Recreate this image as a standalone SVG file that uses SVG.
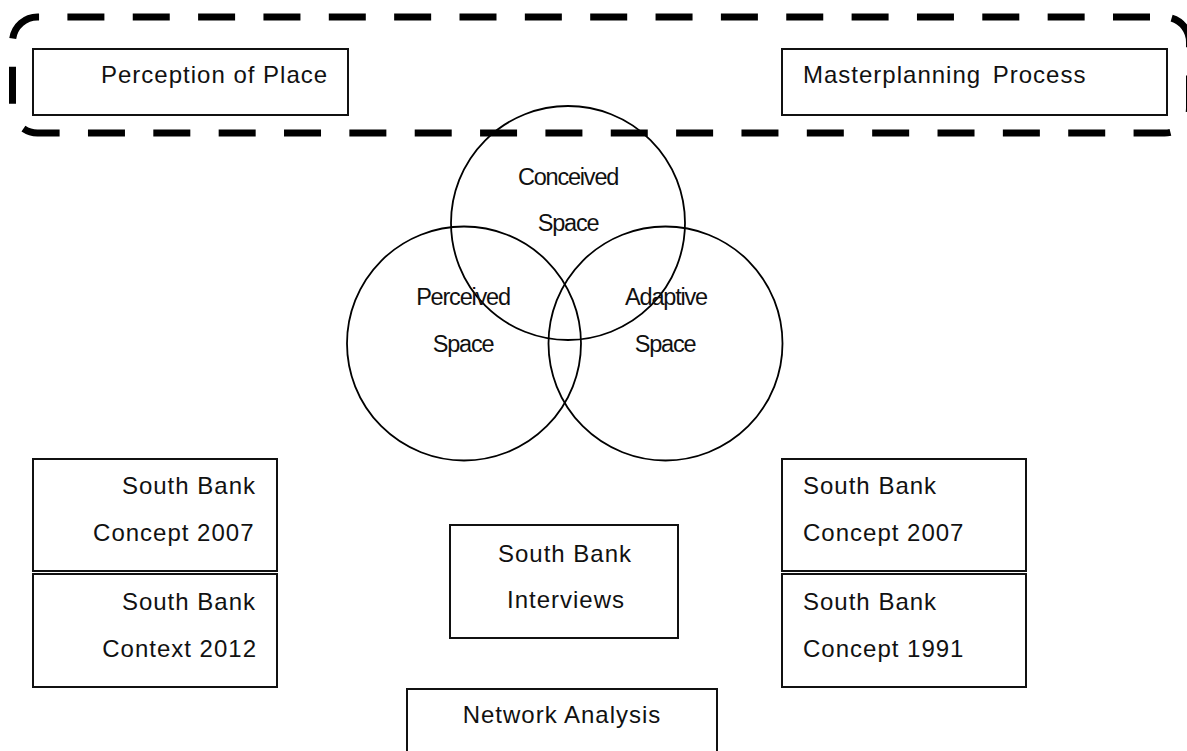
<svg xmlns="http://www.w3.org/2000/svg" width="1187" height="751" viewBox="0 0 1187 751">
  <style>
    .box { fill: #ffffff; stroke: #111111; stroke-width: 2; }
    .ring { fill: none; stroke: #000000; stroke-width: 1.8; }
    .frame { fill: none; stroke: #000000; stroke-width: 7; stroke-dasharray: 37 28.35; stroke-dashoffset: 50.85; }
    .lbl { font-family: "Liberation Sans", Arial, sans-serif; font-size: 24px; fill: #111111; letter-spacing: 1px; }
    .ctr { text-anchor: middle; }
    .end { text-anchor: end; }
    .venn { font-family: "Liberation Sans", Arial, sans-serif; font-size: 23.5px; fill: #111111; letter-spacing: -1.2px; text-anchor: middle; }
  </style>
  <rect width="1187" height="751" fill="#ffffff"/>

  <!-- dashed grouping frame around the two headline boxes -->
  <g id="connectors">
    <path class="frame" d="M1164.5,17 L37.5,17 A25,25 0 0 0 12.5,42 L12.5,108 A25,25 0 0 0 37.5,133 L1164.5,133 A25,25 0 0 0 1189.5,108 L1189.5,42 A25,25 0 0 0 1164.5,17 Z"/>
  </g>

  <g id="perception-of-place">
    <rect class="box" x="33" y="49" width="315" height="66"/>
    <text class="lbl" x="101" y="83">Perception of Place</text>
  </g>

  <g id="masterplanning-process">
    <rect class="box" x="782" y="49" width="385" height="66"/>
    <text class="lbl" x="803" y="83" word-spacing="4">Masterplanning Process</text>
  </g>

  <!-- three-way Venn of spaces -->
  <g id="conceived-space">
    <circle class="ring" cx="568" cy="223" r="117"/>
    <text class="venn" x="568" y="185">Conceived</text>
    <text class="venn" x="568" y="231">Space</text>
  </g>
  <g id="perceived-space">
    <circle class="ring" cx="464" cy="343.5" r="117"/>
    <text class="venn" x="463" y="305">Perceived</text>
    <text class="venn" x="463" y="352">Space</text>
  </g>
  <g id="adaptive-space">
    <circle class="ring" cx="665.5" cy="343.5" r="117"/>
    <text class="venn" x="666" y="305">Adaptive</text>
    <text class="venn" x="665" y="352">Space</text>
  </g>

  <g id="south-bank-concept-2007-left">
    <rect class="box" x="33" y="459" width="244" height="112"/>
    <text class="lbl end" x="256" y="494">South Bank</text>
    <text class="lbl end" x="254.5" y="541">Concept 2007</text>
  </g>
  <g id="south-bank-context-2012">
    <rect class="box" x="33" y="574" width="244" height="113"/>
    <text class="lbl end" x="256" y="610">South Bank</text>
    <text class="lbl end" x="257" y="657">Context 2012</text>
  </g>

  <g id="south-bank-interviews">
    <rect class="box" x="450" y="525" width="228" height="113"/>
    <text class="lbl ctr" x="565" y="562">South Bank</text>
    <text class="lbl ctr" x="566" y="608">Interviews</text>
  </g>

  <g id="network-analysis">
    <rect class="box" x="407" y="689" width="310" height="80"/>
    <text class="lbl ctr" x="562" y="723">Network Analysis</text>
  </g>

  <g id="south-bank-concept-2007-right">
    <rect class="box" x="782" y="459" width="244" height="112"/>
    <text class="lbl" x="803" y="494">South Bank</text>
    <text class="lbl" x="803" y="541">Concept 2007</text>
  </g>
  <g id="south-bank-concept-1991">
    <rect class="box" x="782" y="574" width="244" height="113"/>
    <text class="lbl" x="803" y="610">South Bank</text>
    <text class="lbl" x="803" y="657">Concept 1991</text>
  </g>
</svg>
